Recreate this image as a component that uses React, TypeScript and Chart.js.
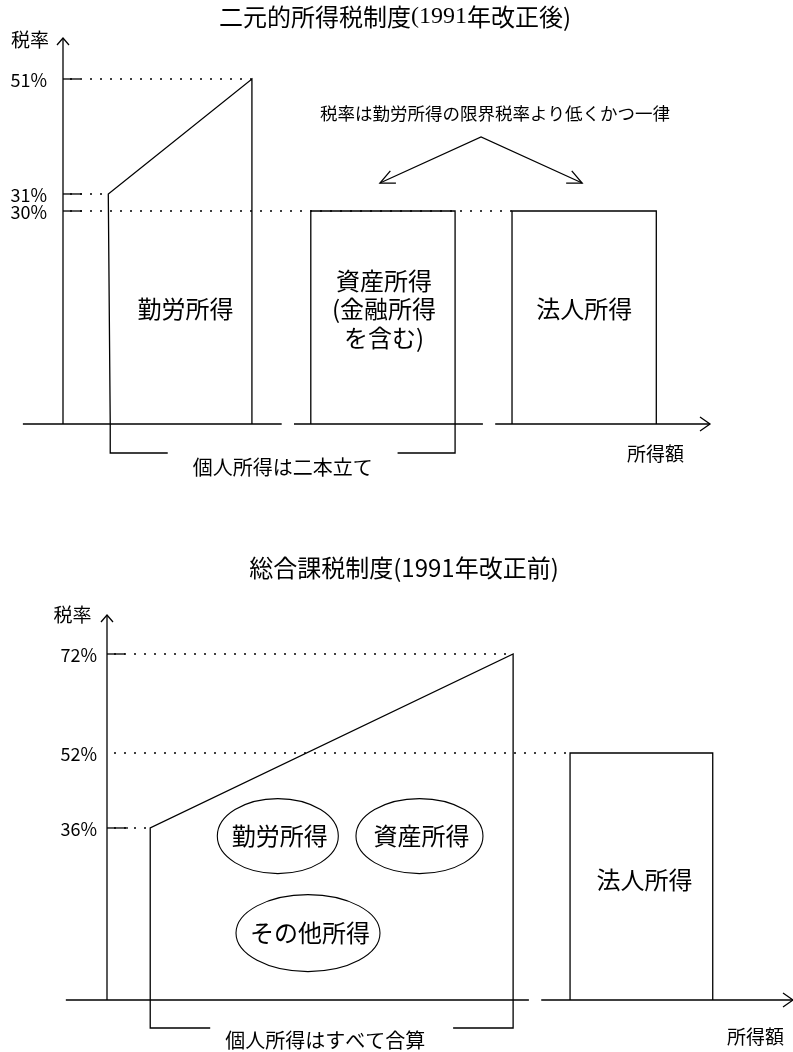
import React, { useEffect, useRef } from 'react';
import { Chart, registerables, LinearScale } from 'chart.js';

// ---------------- data ----------------
const topTitleCjk1 = '二元的所得税制度';
const topTitleSerif = '(1991';
const topTitleCjk2 = '年改正後)';
const topRateTicks = [51, 31, 30];
const topIncomeLabels = ['勤労所得', '資産所得\n(金融所得\nを含む)', '法人所得'];
const topIncomeStartAtAxis = [7.3, 38.3, 69.4];
const topIncomeStart = [7.0, 38.3, 69.4];
const topIncomeEnd = [29.2, 60.6, 91.7];
const topRateAtStart = [31, 30, 30];
const topRateAtEnd = [51, 30, 30];
const topAxisRange = [-6.2, 100];
const topAxisBreaks = [[33.8, 35.7], [64.9, 66.8]];
const topNote = '税率は勤労所得の限界税率より低くかつ一律';
const topBracketLabel = '個人所得は二本立て';

const bottomTitle = '総合課税制度(1991年改正前)';
const bottomRateTicks = [72, 52, 36];
const bottomIncomeLabels = ['', '法人所得'];
const bottomIncomeStartAtAxis = [6.3, 67.5];
const bottomIncomeStart = [6.3, 67.5];
const bottomIncomeEnd = [59.2, 88.3];
const bottomRateAtStart = [36, 52];
const bottomRateAtEnd = [72, 52];
const bottomPersonalKinds = ['勤労所得', '資産所得', 'その他所得'];
const bottomAxisRange = [-6.0, 100];
const bottomAxisBreaks = [[61.5, 63.3]];
const bottomBracketLabel = '個人所得はすべて合算';

const axisLabelY = '税率';
const axisLabelX = '所得額';

// ---------------- styles ----------------
const CJK = '"Noto Sans CJK JP", "Noto Sans", sans-serif';
const SERIF = '"Liberation Serif", "DejaVu Serif", serif';
const LW = 1.3;

// a schematic (not-to-scale) rate axis: piecewise linear between stops
class BreakScale extends LinearScale {
  static id = 'breaks';
  static defaults = {};
  _breakDecimal(value: number) {
    const vs: number[] = (this.options as any).stopValues;
    const ds: number[] = (this.options as any).stopDecimals;
    let i = 0;
    while (i < vs.length - 2 && value > vs[i + 1]) i++;
    return ds[i] + ((value - vs[i]) * (ds[i + 1] - ds[i])) / (vs[i + 1] - vs[i]);
  }
  getPixelForValue(value: number) {
    if (value === null || value === undefined || isNaN(value)) return NaN;
    return this.getPixelForDecimal(this._breakDecimal(value));
  }
  getValueForPixel(pixel: number) {
    const vs: number[] = (this.options as any).stopValues;
    const ds: number[] = (this.options as any).stopDecimals;
    const d = this.getDecimalForPixel(pixel);
    let i = 0;
    while (i < ds.length - 2 && d > ds[i + 1]) i++;
    return vs[i] + ((d - ds[i]) * (vs[i + 1] - vs[i])) / (ds[i + 1] - ds[i]);
  }
}

Chart.register(...registerables, BreakScale);

// ---------------- helpers ----------------
const lineStyle = {
  borderColor: '#000',
  borderWidth: LW,
  pointRadius: 0,
  pointHoverRadius: 0,
  showLine: true,
  fill: false,
  tension: 0,
  clip: false as any,
};

function shapeDatasets(startAxis: number[], start: number[], end: number[], rs: number[], re: number[]) {
  return start.map((s, i) => ({
    ...lineStyle,
    data: [
      { x: startAxis[i], y: 0 },
      { x: s, y: rs[i] },
      { x: end[i], y: re[i] },
      { x: end[i], y: 0 },
    ],
  }));
}

function guideDatasets(ticks: number[], start: number[], end: number[], rs: number[], re: number[]) {
  return ticks.map((t) => {
    let to = 0;
    start.forEach((s, i) => {
      if (rs[i] === t) to = Math.max(to, s);
      if (re[i] === t && re[i] !== rs[i]) to = Math.max(to, end[i]);
    });
    return {
      ...lineStyle,
      borderWidth: 1.6,
      borderDash: [2, 8],
      borderDashOffset: 3,
      data: [
        { x: 0, y: t },
        { x: to, y: t },
      ],
    };
  });
}

function poly(ctx: CanvasRenderingContext2D, pts: number[][], w = LW) {
  ctx.beginPath();
  ctx.lineWidth = w;
  pts.forEach((p, i) => (i === 0 ? ctx.moveTo(p[0], p[1]) : ctx.lineTo(p[0], p[1])));
  ctx.stroke();
}

function text(ctx: CanvasRenderingContext2D, s: string, x: number, y: number, size: number, family = CJK, align: CanvasTextAlign = 'center') {
  ctx.font = `${size}px ${family}`;
  ctx.textAlign = align;
  ctx.textBaseline = 'middle';
  ctx.fillText(s, x, y);
}

function multiText(ctx: CanvasRenderingContext2D, s: string, x: number, y: number, size: number, lh: number) {
  const lines = s.split('\n');
  lines.forEach((ln, i) => text(ctx, ln, x, y + (i - (lines.length - 1) / 2) * lh, size));
}

function arrowHead(ctx: CanvasRenderingContext2D, fx: number, fy: number, tx: number, ty: number, len = 16, spread = 25) {
  const back = Math.atan2(fy - ty, fx - tx);
  const a = (spread * Math.PI) / 180;
  poly(ctx, [
    [tx + len * Math.cos(back - a), ty + len * Math.sin(back - a)],
    [tx, ty],
    [tx + len * Math.cos(back + a), ty + len * Math.sin(back + a)],
  ]);
}

function drawXAxis(ctx: CanvasRenderingContext2D, X: (v: number) => number, ay: number, range: number[], breaks: number[][]) {
  let from = range[0];
  breaks.forEach(([b0, b1]) => {
    poly(ctx, [[X(from), ay], [X(b0), ay]]);
    from = b1;
  });
  poly(ctx, [[X(from), ay], [X(range[1]), ay]]);
  const ex = X(range[1]);
  poly(ctx, [[ex - 10, ay - 7], [ex, ay], [ex - 10, ay + 7]]);
}

function drawYAxis(ctx: CanvasRenderingContext2D, ax: number, ay: number, top: number) {
  poly(ctx, [[ax, ay], [ax, top]]);
  poly(ctx, [[ax - 6, top + 7], [ax, top], [ax + 6, top + 7]]);
}

// rate labels taken from the scale's own ticks
function drawRateLabels(ctx: CanvasRenderingContext2D, ys: any, ax: number, pad: number) {
  ys.ticks.forEach((t: any) => {
    text(ctx, `${t.value}%`, ax - pad, ys.getPixelForValue(t.value) + 1, 18, CJK, 'right');
  });
}

function drawBracket(ctx: CanvasRenderingContext2D, x0: number, x1: number, ay: number, drop: number, arm: number, label: string, labelDx: number, labelDy: number) {
  poly(ctx, [[x0 + arm, ay + drop], [x0, ay + drop], [x0, ay]]);
  poly(ctx, [[x1 - arm, ay + drop], [x1, ay + drop], [x1, ay]]);
  text(ctx, label, (x0 + x1) / 2 + labelDx, ay + labelDy, 20);
}

// ---------------- decorations ----------------
const TOP_TICK_LEN = [17, 19, 19];
const TOP_LABEL_NUDGE = [5.5, 1, 0];

const topDecor = {
  id: 'topDecor',
  afterDatasetsDraw(chart: any) {
    const { ctx, chartArea } = chart;
    const xs = chart.scales.x;
    const ys = chart.scales.y;
    const X = (v: number) => xs.getPixelForValue(v);
    const Y = (v: number) => ys.getPixelForValue(v);
    const ax = X(0);
    const ay = Y(0);
    const top = chartArea.top;
    ctx.save();
    ctx.strokeStyle = '#000';
    ctx.fillStyle = '#000';

    // title (mixed fonts)
    const size = 24;
    ctx.font = `${size}px ${CJK}`;
    const w1 = ctx.measureText(topTitleCjk1).width;
    const w3 = ctx.measureText(topTitleCjk2).width;
    ctx.font = `${size}px ${SERIF}`;
    const w2 = ctx.measureText(topTitleSerif).width;
    let tx = 395 - (w1 + w2 + w3) / 2;
    text(ctx, topTitleCjk1, tx, 17, size, CJK, 'left');
    tx += w1;
    text(ctx, topTitleSerif, tx, 17, size, SERIF, 'left');
    tx += w2;
    text(ctx, topTitleCjk2, tx, 17, size, CJK, 'left');

    drawYAxis(ctx, ax, ay, top);
    drawXAxis(ctx, X, ay, topAxisRange, topAxisBreaks);
    topRateTicks.forEach((t, i) => poly(ctx, [[ax, Y(t)], [ax + TOP_TICK_LEN[i], Y(t)]]));
    drawRateLabels(ctx, ys, ax, 16);

    text(ctx, axisLabelY, ax - 33, top + 2, 19);
    text(ctx, axisLabelX, X(topAxisRange[1]) - 54.5, ay + 30, 19);

    // segment labels
    const labelY = (Y(0) + Y(30)) / 2 - 8.5;
    topIncomeLabels.forEach((lab, i) => {
      const cx = (X(topIncomeStart[i]) + X(topIncomeEnd[i])) / 2 + TOP_LABEL_NUDGE[i];
      multiText(ctx, lab, cx, labelY, 24, 28.5);
    });

    // note with arrows to the flat-rate boxes
    const flat = Y(topRateAtStart[1]);
    const t1x = (X(topIncomeStart[1]) + X(topIncomeEnd[1])) / 2 - 3;
    const t2x = (X(topIncomeStart[2]) + X(topIncomeEnd[2])) / 2 - 2;
    const tipY = flat - 28;
    const px = (t1x + t2x) / 2;
    const py = flat - 74;
    poly(ctx, [[t1x, tipY], [px, py], [t2x, tipY]]);
    arrowHead(ctx, px, py, t1x, tipY);
    arrowHead(ctx, px, py, t2x, tipY);
    text(ctx, topNote, px + 14, flat - 98, 17.5);

    // bracket: personal income in two parts
    drawBracket(ctx, X(topIncomeStartAtAxis[0]), X(topIncomeEnd[1]), ay, 29, 57.5, topBracketLabel, 0, 43);
    ctx.restore();
  },
};

const BOTTOM_TICK_LEN = [18, 0, 21];
const KIND_BUBBLES = [
  { x: 24.9, y: 34.3, rx: 60.5, ry: 37.5 },
  { x: 45.55, y: 34.3, rx: 63.5, ry: 37.5 },
  { x: 29.3, y: 14.0, rx: 72, ry: 38.5 },
];

const bottomDecor = {
  id: 'bottomDecor',
  afterDatasetsDraw(chart: any) {
    const { ctx, chartArea } = chart;
    const xs = chart.scales.x;
    const ys = chart.scales.y;
    const X = (v: number) => xs.getPixelForValue(v);
    const Y = (v: number) => ys.getPixelForValue(v);
    const ax = X(0);
    const ay = Y(0);
    const top = chartArea.top;
    ctx.save();
    ctx.strokeStyle = '#000';
    ctx.fillStyle = '#000';

    text(ctx, bottomTitle, 404, 68, 24);

    drawYAxis(ctx, ax, ay, top);
    drawXAxis(ctx, X, ay, bottomAxisRange, bottomAxisBreaks);
    bottomRateTicks.forEach((t, i) => {
      if (BOTTOM_TICK_LEN[i] > 0) poly(ctx, [[ax, Y(t)], [ax + BOTTOM_TICK_LEN[i], Y(t)]]);
    });
    drawRateLabels(ctx, ys, ax, 10);

    text(ctx, axisLabelY, ax - 34.5, top, 19);
    text(ctx, axisLabelX, X(bottomAxisRange[1]) - 37.5, ay + 37, 19);

    // corporate box label
    const cy = (Y(0) + Y(bottomRateAtStart[1])) / 2 + 3.5;
    bottomIncomeLabels.forEach((lab, i) => {
      if (!lab) return;
      const cx = (X(bottomIncomeStart[i]) + X(bottomIncomeEnd[i])) / 2 + 3;
      text(ctx, lab, cx, cy, 24);
    });

    // kinds of personal income, all aggregated
    bottomPersonalKinds.forEach((k, i) => {
      const b = KIND_BUBBLES[i];
      const ex = X(b.x);
      const ey = Y(b.y);
      ctx.beginPath();
      ctx.lineWidth = 1.1;
      ctx.ellipse(ex, ey, b.rx, b.ry, 0, 0, Math.PI * 2);
      ctx.stroke();
      text(ctx, k, ex + 2, ey, 24);
    });

    drawBracket(ctx, X(bottomIncomeStartAtAxis[0]), X(bottomIncomeEnd[0]), ay, 28, 60, bottomBracketLabel, -6.5, 40);
    ctx.restore();
  },
};

// ---------------- configs ----------------
function yScale(ticks: number[], max: number, stopValues: number[], stopDecimals: number[], width: number) {
  return {
    type: 'breaks',
    position: 'left',
    min: 0,
    max,
    stopValues,
    stopDecimals,
    afterFit: (s: any) => {
      s.width = width;
    },
    afterBuildTicks: (s: any) => {
      s.ticks = ticks.map((v) => ({ value: v }));
    },
    grid: { display: false, drawTicks: false },
    border: { display: false },
    ticks: { display: false, autoSkip: false },
  };
}

function baseOptions(padding: any, y: any) {
  return {
    responsive: false,
    animation: false,
    events: [],
    layout: { padding },
    plugins: { legend: { display: false }, tooltip: { enabled: false }, title: { display: false } },
    scales: {
      x: { type: 'linear', min: 0, max: 100, display: false },
      y,
    },
  };
}

function topConfig(): any {
  return {
    type: 'scatter',
    data: {
      datasets: [
        ...guideDatasets(topRateTicks, topIncomeStart, topIncomeEnd, topRateAtStart, topRateAtEnd),
        ...shapeDatasets(topIncomeStartAtAxis, topIncomeStart, topIncomeEnd, topRateAtStart, topRateAtEnd),
      ],
    },
    options: baseOptions(
      { top: 38, bottom: 76, left: 0, right: 83 },
      yScale(topRateTicks, 58, [0, 30, 31, 51], [0, 0.5518, 0.5959, 0.8938], 63)
    ),
    plugins: [topDecor],
  };
}

function bottomConfig(): any {
  return {
    type: 'scatter',
    data: {
      datasets: [
        ...guideDatasets(bottomRateTicks, bottomIncomeStart, bottomIncomeEnd, bottomRateAtStart, bottomRateAtEnd),
        ...shapeDatasets(bottomIncomeStartAtAxis, bottomIncomeStart, bottomIncomeEnd, bottomRateAtStart, bottomRateAtEnd),
      ],
    },
    options: baseOptions(
      { top: 115, bottom: 52, left: 0, right: 0 },
      yScale(bottomRateTicks, 80, [0, 36, 52, 72], [0, 0.4468, 0.6416, 0.8987], 107)
    ),
    plugins: [bottomDecor],
  };
}

export default function App() {
  const topRef = useRef<HTMLCanvasElement>(null);
  const botRef = useRef<HTMLCanvasElement>(null);
  useEffect(() => {
    const c1 = new Chart(topRef.current as HTMLCanvasElement, topConfig());
    const c2 = new Chart(botRef.current as HTMLCanvasElement, bottomConfig());
    return () => {
      c1.destroy();
      c2.destroy();
    };
  }, []);
  return (
    <div style={{ position: 'absolute', left: 0, top: 0, width: 793, height: 1052, background: '#fff' }}>
      <canvas
        ref={topRef}
        width={793}
        height={500}
        style={{ position: 'absolute', left: 0, top: 0, width: 793, height: 500 }}
      />
      <canvas
        ref={botRef}
        width={793}
        height={552}
        style={{ position: 'absolute', left: 0, top: 500, width: 793, height: 552 }}
      />
    </div>
  );
}
